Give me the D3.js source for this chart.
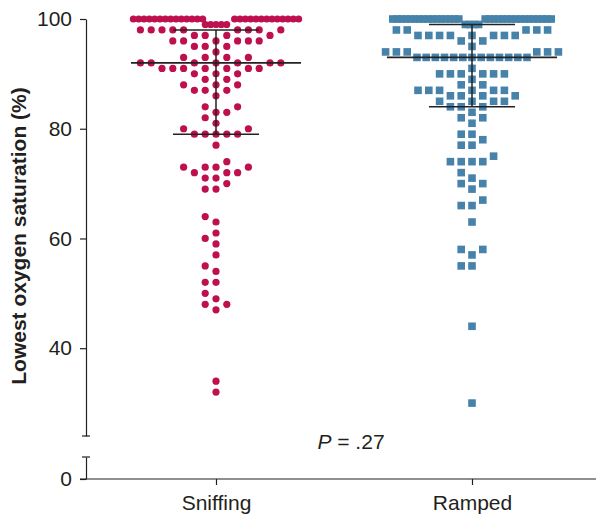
<!DOCTYPE html>
<meta charset="utf-8">
<style>
body { margin: 0; background: #fff; }
svg { display: block; font-family: "Liberation Sans", Arial, Helvetica, sans-serif; }
.axis text { font-size: 21px; fill: #231f20; }
.axis line, .axis path { stroke: #231f20; }
</style>
<svg width="596" height="517"></svg>
<script src="https://cdn.jsdelivr.net/npm/d3@7/dist/d3.min.js"></script>
<script>
var groups = ["Sniffing", "Ramped"]

// lowest saturation value and how many patients reached it
var sniffVals   = [100, 99, 98, 97, 96, 95, 94, 93, 92, 91, 90, 89, 88, 87, 86, 84, 83, 82, 81, 80, 79, 77, 74, 73, 72, 71, 70, 69, 64, 63, 61, 60, 59, 57, 55, 54, 52, 50, 49, 48, 47, 34, 32]
var sniffCounts = [27,   5,  9,  4,  6,  3,  1,  4,  7,  7,  3,  2,  3,  3,  1,  2,  2,  1,  1,  2,  5,  1,  1,  4,  3,  2,  1,  2,  1,  1,  1,  1,  1,  1,  1,  1,  2,  1,  1,  2,  1,  1,  1]
var rampVals    = [100, 99, 98, 97, 96, 95, 94, 93, 91, 90, 89, 88, 87, 86, 85, 84, 83, 82, 81, 79, 78, 77, 75, 74, 72, 71, 70, 69, 67, 66, 63, 58, 57, 55, 44, 30]
var rampCounts  = [32,   4,  5,  8,  2,  1,  6, 13,  1,  6,  1,  2,  6,  4,  4,  3,  1,  2,  1,  2,  1,  2,  1,  4,  1,  1,  2,  1,  1,  2,  1,  2,  1,  2,  1,  1]

// median and interquartile range
var medians = [92, 93]
var q1 = [79, 84]
var q3 = [98, 99]

var yTicksTop = [40, 60, 80, 100]
var yTicksLow = [0]
var pText = ".27"

var colors = ["#be0f4e", "#4682aa"]

var svg = d3.select("svg")
var axisX = 86, baseY = 479

var x = d3.scalePoint().domain(groups).range([216, 472])
var yTop = d3.scaleLinear().domain([24, 100]).range([436, 19])
var yLow = d3.scaleLinear().domain([0, 4]).range([baseY, 457])

// beeswarm on a half-step grid.
// rows too wide for maxHalf are packed tight (step ws) and leave a gap for the
// row just below, which is packed the same way; other rows go bottom up, greedy
function swarm(vals, counts, unit, ws, gap, maxHalf){
  var pts = []
  var kind = vals.map(function(v, i){
    return (counts[i] - 1) * 2 * unit > 2 * maxHalf ? "wide" : "normal"
  })
  vals.forEach(function(v, i){
    if (i > 0 && kind[i - 1] === "wide" && vals[i - 1] - v === 1 && kind[i] === "normal") kind[i] = "under"
  })

  function free(px, yy){
    return pts.every(function(p){ return Math.hypot(p.dx - px, p.y - yy) >= gap - 0.01 })
  }

  vals.forEach(function(v, i){
    if (kind[i] !== "under") return
    var n = counts[i]
    for (var k = 0; k < n; k++)
      pts.push({v: v, y: yTop(v), dx: (k - (n - 1) / 2) * ws})
  })

  vals.forEach(function(v, i){
    if (kind[i] !== "wide") return
    var below = pts.filter(function(p){ return p.v === v - 1 })
    var lo = d3.min(below, function(p){ return p.dx }), hi = d3.max(below, function(p){ return p.dx })
    var slots = []
    for (var s = 0; slots.length < counts[i] && s < 80; s++){
      ;(s === 0 ? [0] : [-s, s]).forEach(function(u){
        var px = u * ws
        if (below.length && px > lo - 0.9 * ws && px < hi + 0.9 * ws) return
        if (slots.length < counts[i]) slots.push(px)
      })
    }
    var shift = -(d3.min(slots) + d3.max(slots)) / 2
    slots.forEach(function(px){ pts.push({v: v, y: yTop(v), dx: px + shift}) })
  })

  for (var i = vals.length - 1; i >= 0; i--){
    if (kind[i] !== "normal") continue
    var v = vals[i], yy = yTop(v), left = 0, right = 0
    // long rows get squeezed a little
    var ru = counts[i] > 1 ? Math.min(unit, 55 / (counts[i] - 1)) : unit
    for (var k = 0; k < counts[i]; k++){
      for (var s = 0; s < 60; s++){
        var cands = s === 0 ? [0] : (left <= right ? [-s, s] : [s, -s])
        var hit = cands.find(function(u){ return free(u * ru, yy) })
        if (hit !== undefined){
          pts.push({v: v, y: yy, dx: hit * ru})
          if (hit < 0) left++
          if (hit > 0) right++
          break
        }
      }
    }
  }
  return pts
}

var sniffPts = swarm(sniffVals, sniffCounts, 5.4, 5.33, 9, 80)
var rampPts = swarm(rampVals, rampCounts, 5.4, 4.4, 9, 78)

// y axis, upper part
var gTop = svg.append("g").attr("class", "axis")
  .attr("transform", "translate(" + axisX + ",0)")
  .call(d3.axisLeft(yTop).tickValues(yTicksTop).tickSize(6).tickSizeOuter(0).tickPadding(8))
gTop.select(".domain").attr("stroke-width", 1.2)
gTop.selectAll(".tick line").attr("stroke-width", 1.2)

// y axis, lower part
var gLow = svg.append("g").attr("class", "axis")
  .attr("transform", "translate(" + axisX + ",0)")
  .call(d3.axisLeft(yLow).tickValues(yTicksLow).tickFormat(d3.format("d")).tickSize(6).tickSizeOuter(0).tickPadding(8))
gLow.select(".domain").attr("stroke-width", 1.2)
gLow.selectAll(".tick line").attr("stroke-width", 1.2)

// break caps
;[yTop.range()[0], yLow.range()[1]].forEach(function(yy){
  svg.append("line")
    .attr("x1", axisX - 4).attr("x2", axisX + 4)
    .attr("y1", yy).attr("y2", yy)
    .attr("stroke", "#231f20").attr("stroke-width", 1.2)
})

// x axis
var gx = svg.append("g").attr("class", "axis")
  .attr("transform", "translate(0," + baseY + ")")
  .call(d3.axisBottom(x).tickSize(6).tickPadding(10))
gx.select(".domain").remove()
gx.selectAll(".tick line").attr("stroke-width", 1.2)
svg.append("line")
  .attr("x1", axisX - 6).attr("x2", 596)
  .attr("y1", baseY).attr("y2", baseY)
  .attr("stroke", "#231f20").attr("stroke-width", 1.2)

// y label
svg.append("text")
  .attr("transform", "translate(26,236) rotate(-90)")
  .attr("text-anchor", "middle")
  .attr("font-weight", "bold")
  .attr("font-size", 21)
  .attr("fill", "#231f20")
  .text("Lowest oxygen saturation (%)")

// points
svg.append("g").selectAll("circle")
  .data(sniffPts)
  .enter().append("circle")
    .attr("cx", function(d){ return x(groups[0]) + d.dx })
    .attr("cy", function(d){ return d.y })
    .attr("r", 3.6)
    .attr("fill", colors[0])

var sq = 7.6
svg.append("g").selectAll("rect")
  .data(rampPts)
  .enter().append("rect")
    .attr("x", function(d){ return x(groups[1]) + d.dx - sq / 2 })
    .attr("y", function(d){ return d.y - sq / 2 })
    .attr("width", sq)
    .attr("height", sq)
    .attr("fill", colors[1])

// median and IQR bars
groups.forEach(function(g, i){
  var cx = x(g)
  var bars = svg.append("g").attr("stroke", "#222").attr("stroke-width", 1.5)
  bars.append("line").attr("x1", cx).attr("x2", cx).attr("y1", yTop(q1[i])).attr("y2", yTop(q3[i]))
  bars.append("line").attr("x1", cx - 85).attr("x2", cx + 85).attr("y1", yTop(medians[i])).attr("y2", yTop(medians[i])).attr("stroke-width", 1.8)
  bars.append("line").attr("x1", cx - 43).attr("x2", cx + 43).attr("y1", yTop(q1[i])).attr("y2", yTop(q1[i]))
  bars.append("line").attr("x1", cx - 43).attr("x2", cx + 43).attr("y1", yTop(q3[i])).attr("y2", yTop(q3[i]))
})

// P value
var pt = svg.append("text")
  .attr("x", 351).attr("y", 449)
  .attr("text-anchor", "middle")
  .attr("font-size", 21)
  .attr("fill", "#231f20")
pt.append("tspan").attr("font-style", "italic").text("P")
pt.append("tspan").text(" = " + pText)
</script>
